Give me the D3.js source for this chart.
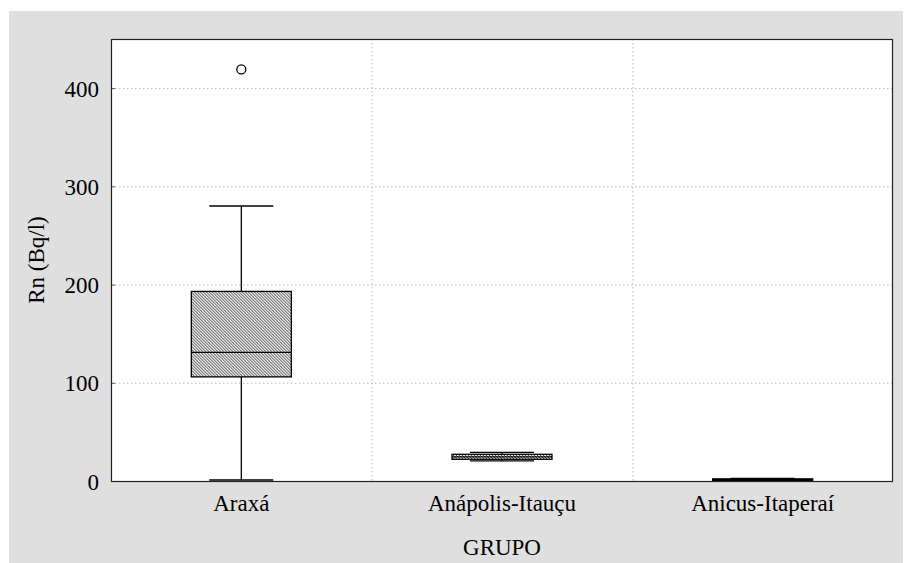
<!DOCTYPE html>
<html>
<head>
<meta charset="utf-8">
<script src="https://cdn.jsdelivr.net/npm/d3@7"></script>
<style>
  body { margin: 0; background: #fff; }
</style>
</head>
<body>
<svg id="chart" width="907" height="563"></svg>
<script>
// box plot values
var grupos = ['Araxá', 'Anápolis-Itauçu', 'Anicus-Itaperaí'];
var minimos = [1, 20.4, 0.3];
var q1s = [106, 22.1, 0.6];
var medianas = [131, 24.5, 1.4];
var q3s = [193, 27.2, 2.2];
var maximos = [280, 29.2, 2.6];
var outliers = [[419], [], []];
var yTicks = [0, 100, 200, 300, 400];

var width = 907;
var height = 563;
var margin = { top: 39, right: 14, bottom: 82, left: 111 };
var serif = "'Liberation Serif', 'Tinos', 'Times New Roman', 'DejaVu Serif', serif";

var svg = d3.select('#chart');

svg.append('rect')
.attr('x', 9).attr('y', 11)
.attr('width', 894).attr('height', 552)
.attr('fill', '#dfdfdf');

var defs = svg.append('defs');
var pat = defs.append('pattern')
.attr('id', 'hatch')
.attr('patternUnits', 'userSpaceOnUse')
.attr('width', 3).attr('height', 3);
pat.append('rect').attr('width', 3).attr('height', 3).attr('fill', '#e4e4e4');
pat.append('path')
.attr('d', 'M-1,-1 L4,4 M-1,2 L1,4 M2,-1 L4,1')
.attr('stroke', '#444')
.attr('stroke-width', 0.9);

var x = d3.scaleBand()
.domain(grupos)
.range([margin.left, width - margin.right]);

var y = d3.scaleLinear()
.domain([0, 450])
.range([height - margin.bottom, margin.top]);

// plot area
svg.append('rect')
.attr('x', margin.left).attr('y', margin.top)
.attr('width', x.range()[1] - margin.left)
.attr('height', y(0) - margin.top)
.attr('fill', '#fff');

// grid
svg.append('g')
.selectAll('line')
.data(yTicks.slice(1))
.enter()
.append('line')
.attr('x1', margin.left).attr('x2', x.range()[1])
.attr('y1', function(d) { return y(d) + 0.5; })
.attr('y2', function(d) { return y(d) + 0.5; })
.attr('stroke', '#bbb')
.attr('stroke-dasharray', '1.5,2.5');

svg.append('g')
.selectAll('line')
.data(grupos.slice(1))
.enter()
.append('line')
.attr('x1', function(d) { return x(d) + 0.5; })
.attr('x2', function(d) { return x(d) + 0.5; })
.attr('y1', margin.top).attr('y2', y(0))
.attr('stroke', '#bbb')
.attr('stroke-dasharray', '1.5,2.5');

// axes
var yAxis = svg.append('g')
.attr('transform', 'translate(' + margin.left + ',0)')
.call(d3.axisLeft(y).tickValues(yTicks).tickSize(-4).tickPadding(12));
yAxis.attr('font-family', null);
yAxis.select('.domain').remove();
yAxis.selectAll('line').attr('stroke', '#555');
yAxis.selectAll('text').style('font-size', '23px').style('font-family', serif).attr('dy', '0.35em');

var xAxis = svg.append('g')
.attr('transform', 'translate(0,' + y(0) + ')')
.call(d3.axisBottom(x).tickSize(0).tickPadding(14));
xAxis.attr('font-family', null);
xAxis.select('.domain').remove();
xAxis.selectAll('text').style('font-size', '23px').style('font-family', serif);

// boxes
var bw = 100;
var cw = 64;
var groups = svg.append('g')
.selectAll('g')
.data(grupos)
.enter()
.append('g')
.attr('transform', function(d) { return 'translate(' + (x(d) + x.bandwidth() / 2) + ',0)'; });

groups.append('line')
.attr('x1', 0).attr('x2', 0)
.attr('y1', function(d, i) { return y(minimos[i]); })
.attr('y2', function(d, i) { return y(maximos[i]); })
.attr('stroke', '#000').attr('stroke-width', 1.3);

groups.selectAll('.cap')
.data(function(d, i) { return [minimos[i], maximos[i]]; })
.enter()
.append('line')
.attr('x1', -cw / 2).attr('x2', cw / 2)
.attr('y1', function(v) { return y(v); })
.attr('y2', function(v) { return y(v); })
.attr('stroke', '#000').attr('stroke-width', 1.3);

groups.append('rect')
.attr('x', -bw / 2)
.attr('width', bw)
.attr('y', function(d, i) { return y(q3s[i]); })
.attr('height', function(d, i) { return y(q1s[i]) - y(q3s[i]); })
.attr('fill', 'url(#hatch)')
.attr('stroke', '#000').attr('stroke-width', 1.3);

groups.append('line')
.attr('x1', -bw / 2).attr('x2', bw / 2)
.attr('y1', function(d, i) { return y(medianas[i]); })
.attr('y2', function(d, i) { return y(medianas[i]); })
.attr('stroke', '#000').attr('stroke-width', 1.3);

groups.selectAll('circle')
.data(function(d, i) { return outliers[i]; })
.enter()
.append('circle')
.attr('cx', 0)
.attr('cy', function(v) { return y(v); })
.attr('r', 4.5)
.attr('fill', 'none')
.attr('stroke', '#000').attr('stroke-width', 1.3);

// frame
svg.append('rect')
.attr('x', margin.left + 0.5).attr('y', margin.top + 0.5)
.attr('width', x.range()[1] - margin.left - 1)
.attr('height', y(0) - margin.top)
.attr('fill', 'none')
.attr('stroke', '#222').attr('stroke-width', 1.2);

// titles
svg.append('text')
.attr('x', x.range()[0] + (x.range()[1] - x.range()[0]) / 2)
.attr('y', 555)
.attr('text-anchor', 'middle')
.style('font-size', '23px')
.style('font-family', serif)
.text('GRUPO');

svg.append('text')
.attr('transform', 'translate(44,' + (margin.top + (y(0) - margin.top) / 2) + ') rotate(-90)')
.attr('text-anchor', 'middle')
.style('font-size', '23px')
.style('font-family', serif)
.text('Rn (Bq/l)');
</script>
</body>
</html>
